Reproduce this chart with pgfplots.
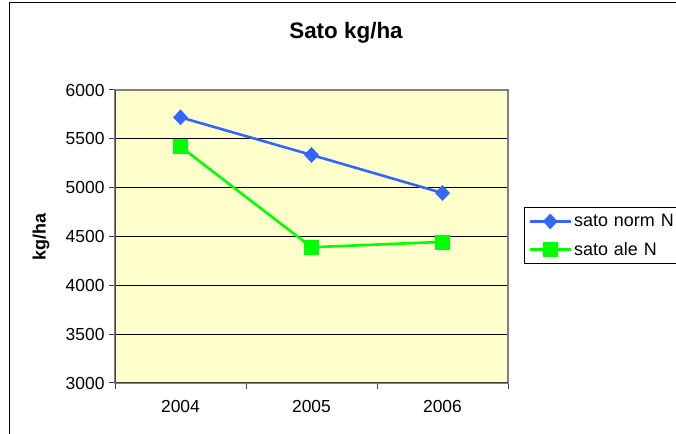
\documentclass[border=0pt]{standalone}
\usepackage{pgfplots}
\pgfplotsset{compat=1.18}
\usepackage{fontspec}
\setmainfont{Liberation Sans}
\definecolor{plotbg}{HTML}{FFFFCC}
\definecolor{serblue}{HTML}{3366FF}
\definecolor{sergreen}{HTML}{00FF00}
\begin{document}
\begin{tikzpicture}
\useasboundingbox (0,0) rectangle (676bp,434bp);
\fill[white] (0,0) rectangle (676bp,434bp);
\draw[line width=1.5bp,black] (9.5bp,431.5bp) rectangle (700bp,-10bp);
\begin{axis}[
  at={(115bp,51bp)}, anchor=south west,
  scale only axis, width=393bp, height=293bp,
  xmin=-0.5, xmax=2.5, ymin=3000, ymax=6000,
  xtick={0,1,2}, xticklabels={2004,2005,2006},
  minor xtick={-0.5,0.5,1.5,2.5},
  ytick={3000,3500,4000,4500,5000,5500,6000},
  xtick pos=bottom, ytick pos=left,
  tick align=outside, major tick length=6bp, minor tick length=6bp,
  major x tick style={draw=none},
  minor x tick style={draw=black!75, line width=1bp},
  ytick style={draw=black!75, line width=1bp},
  ymajorgrids, grid style={black, line width=1bp},
  axis background/.style={fill=plotbg},
  axis line style={draw=black!50, line width=1.2bp},
  /pgf/number format/assume math mode=true,
  /pgf/number format/1000 sep={},
  tick label style={font=\fontsize{17.5}{20}\selectfont},
  yticklabel style={xshift=-1bp},
  xticklabel style={yshift=-8bp},
  legend style={at={(rel axis cs:1.0407,0.6007)}, anchor=north west,
    draw=black, line width=1bp, fill=white,
    font=\fontsize{18}{21}\selectfont,
    inner xsep=4bp, inner ysep=5bp, row sep=10bp,
    /tikz/every even column/.append style={text width=110bp}},
  legend cell align=left,
  legend image code/.code={\draw[mark repeat=2,mark phase=2] plot coordinates {(0bp,0bp) (20.5bp,0bp) (41bp,0bp)};},
]
\addplot[serblue, line width=2.6bp, mark=diamond*, mark size=7.5bp, mark options={solid, xscale=1.25, fill=serblue, draw=serblue, line width=0.5bp}]
  coordinates {(0,5720) (1,5335) (2,4945)};
\addlegendentry{sato norm N}
\addplot[sergreen, line width=2.6bp, mark=square*, mark size=7bp, mark options={solid, fill=sergreen, draw=sergreen, line width=0.5bp}]
  coordinates {(0,5420) (1,4390) (2,4445)};
\addlegendentry{sato ale N}
\draw[black!75, line width=1.2bp] (rel axis cs:0,1) -- (rel axis cs:0,0) -- (rel axis cs:1,0);
\end{axis}
\node[font=\fontsize{22.5}{26}\selectfont\bfseries] at (346bp,401bp) {Sato kg/ha};
\node[font=\fontsize{18}{22}\selectfont\bfseries, rotate=90] at (41bp,197bp) {kg/ha};
\end{tikzpicture}
\end{document}
